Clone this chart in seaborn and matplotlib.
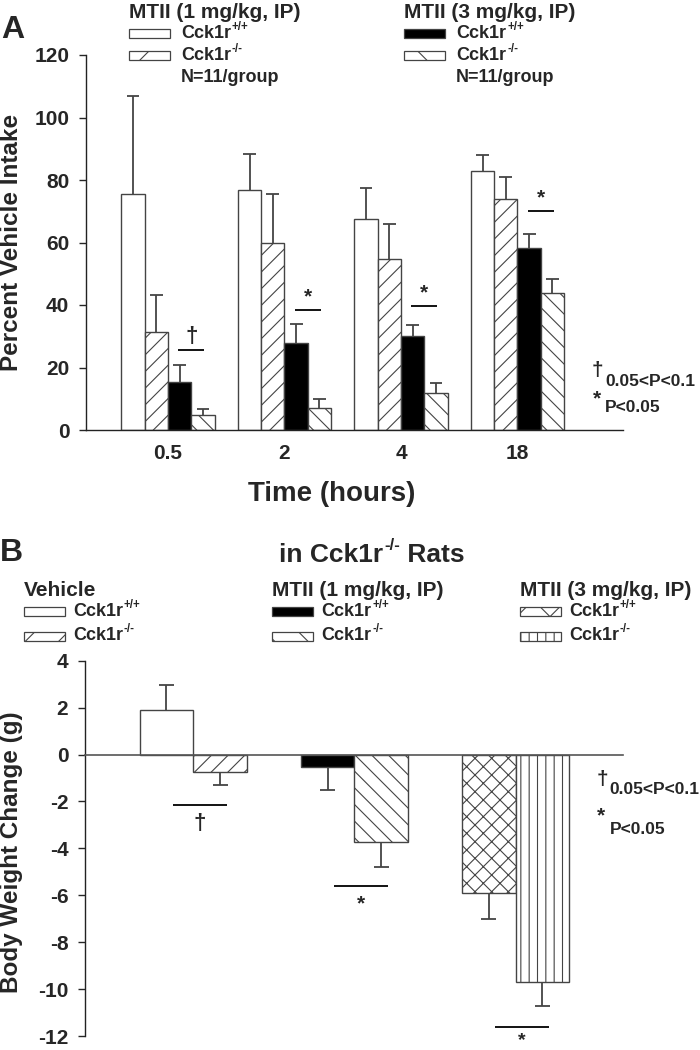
import numpy as np
import pandas as pd
import matplotlib
matplotlib.use("Agg")
import matplotlib.pyplot as plt
import seaborn as sns
from matplotlib.patches import Rectangle

# ---------------- data ----------------
# Panel A: percent vehicle intake
times = ["0.5", "2", "4", "18"]
groups_A = ["MTII1 Cck1r+/+", "MTII1 Cck1r-/-", "MTII3 Cck1r+/+", "MTII3 Cck1r-/-"]
a_mtii1_wt = [75.5, 76.8, 67.6, 82.9]
a_mtii1_ko = [31.5, 59.9, 54.8, 73.9]
a_mtii3_wt = [15.4, 27.9, 30.2, 58.1]
a_mtii3_ko = [4.8, 7.2, 11.7, 43.7]
a_mtii1_wt_err = [31.5, 11.4, 10.0, 5.0]
a_mtii1_ko_err = [11.7, 15.6, 11.2, 7.1]
a_mtii3_wt_err = [5.4, 6.0, 3.4, 4.5]
a_mtii3_ko_err = [1.8, 2.7, 3.4, 4.7]
a_sig_y = [25.5, 38.4, 39.7, 70.0]
a_sig_mark = ["\u2020", "*", "*", "*"]

# Panel B: body weight change
b_conditions = ["Vehicle", "MTII (1 mg/kg, IP)", "MTII (3 mg/kg, IP)"]
b_genotypes = ["Cck1r+/+", "Cck1r-/-"]
b_wt = [1.9, -0.55, -5.91]
b_ko = [-0.75, -3.73, -9.70]
b_wt_err = [1.05, 0.97, 1.12]
b_ko_err = [0.53, 1.05, 1.00]
b_sig_y = [-2.14, -5.62, -11.6]
b_sig_mark = ["\u2020", "*", "*"]

# ---------------- style ----------------
sns.set_style("ticks")
plt.rcParams["font.family"] = ["Liberation Sans", "DejaVu Sans"]
plt.rcParams["font.weight"] = "bold"
plt.rcParams["axes.unicode_minus"] = False
plt.rcParams["hatch.linewidth"] = 0.8
plt.rcParams["axes.linewidth"] = 1.0

W, H = 700, 1050
fig = plt.figure(figsize=(7, 10.5), dpi=100)
fig.patch.set_facecolor("white")
renderer = fig.canvas.get_renderer()


def fx(px):
    return px / W


def fy(py):
    return 1 - py / H


EDGE = "#444444"
ERR = "#444444"


def sup_text(x_px, y_px, base, sup, fs, tail="", ha="left"):
    """Bold text with a superscript part (and optional tail), placed in pixels."""
    kw = dict(fontweight="bold", va="center")
    t1 = fig.text(0, fy(y_px), base, fontsize=fs, **kw)
    t2 = fig.text(0, fy(y_px - 0.36 * fs * 100 / 72), sup, fontsize=0.64 * fs, **kw)
    parts = [t1, t2]
    if tail:
        parts.append(fig.text(0, fy(y_px), tail, fontsize=fs, **kw))
    widths = [p.get_window_extent(renderer).width for p in parts]
    total = sum(widths) + 1
    x0 = x_px if ha == "left" else x_px - total / 2
    cur = x0
    for p, w in zip(parts, widths):
        p.set_x(fx(cur))
        cur += w + (1 if p is t1 else 0)
    return parts


# ================= Panel A =================
axA = fig.add_axes([fx(86), fy(430), (623 - 86) / W, (430 - 55) / H])
dfA = pd.DataFrame({
    "time": times * 4,
    "group": np.repeat(groups_A, len(times)),
    "value": a_mtii1_wt + a_mtii1_ko + a_mtii3_wt + a_mtii3_ko,
})
colors_A = ["white", "white", "black", "white"]
hatches_A = ["", "//", "", "\\\\"]
sns.barplot(data=dfA, x="time", y="value", hue="group", order=times,
            hue_order=groups_A, palette=colors_A, saturation=1, width=0.8,
            errorbar=None, edgecolor=EDGE, linewidth=1.0, legend=False, ax=axA)
means_A = [a_mtii1_wt, a_mtii1_ko, a_mtii3_wt, a_mtii3_ko]
errs_A = [a_mtii1_wt_err, a_mtii1_ko_err, a_mtii3_wt_err, a_mtii3_ko_err]
for cont, hatch, m, e in zip(axA.containers, hatches_A, means_A, errs_A):
    xs = np.array([b.get_x() + b.get_width() / 2 for b in cont])
    for b in cont:
        b.set_hatch(hatch)
    m = np.array(m)
    e = np.array(e)
    axA.vlines(xs, m, m + e, color=ERR, lw=1.3, zorder=3)
    axA.hlines(m + e, xs - 0.055, xs + 0.055, color=ERR, lw=1.3, zorder=3)

for i, (sy, mk) in enumerate(zip(a_sig_y, a_sig_mark)):
    b = axA.containers[2][i]
    bx = b.get_x() + b.get_width()
    axA.hlines(sy, bx - 0.11, bx + 0.11, color="black", lw=1.3)
    axA.text(bx, sy + 1.2, mk, ha="center", va="bottom",
             fontsize=16 if mk == "\u2020" else 15, fontweight="bold")

axA.set_xlim(-0.704, 3.906)
axA.set_ylim(0, 120)
axA.set_yticks(np.arange(0, 121, 20))
axA.tick_params(axis="y", direction="out", length=5, width=1, pad=7,
                labelsize=15)
axA.tick_params(axis="x", length=0, pad=10, labelsize=15)
for lab in axA.get_xticklabels() + axA.get_yticklabels():
    lab.set_fontweight("bold")
sns.despine(ax=axA)
for s in ["left", "bottom"]:
    axA.spines[s].set_color("#222222")
axA.set_ylabel("Percent Vehicle Intake", fontsize=17.5, fontweight="bold")
axA.yaxis.set_label_coords((12 - 86) / 537, 0.50)
axA.yaxis.label.set_va("center")
axA.set_xlabel("Time (hours)", fontsize=20, fontweight="bold")
axA.xaxis.set_label_coords((332 - 86) / 537, -(494 - 430) / 375)
axA.xaxis.label.set_va("center")

# panel A letter + legend
fig.text(fx(13), fy(30), "A", fontsize=23, fontweight="bold", ha="center", va="center")


def swatch(x0, yc, face, hatch, w=41, h=9):
    r = Rectangle((fx(x0), fy(yc + h / 2)), w / W, h / H, transform=fig.transFigure,
                  facecolor=face, edgecolor=EDGE, hatch=hatch, lw=0.9)
    fig.add_artist(r)


def legend_block(x0, ytitle, title, rows, tx_off=51, dy=24, title_fs=15, d0=21):
    fig.text(fx(x0), fy(ytitle), title, fontsize=title_fs, fontweight="bold",
             ha="left", va="center")
    for k, (base, sup, face, hatch) in enumerate(rows):
        yc = ytitle + d0 + k * dy
        swatch(x0, yc, face, hatch)
        sup_text(x0 + tx_off, yc, base, sup, 13)


legend_block(129, 12, "MTII (1 mg/kg, IP)",
             [("Cck1r", "+/+", "white", ""), ("Cck1r", "-/-", "white", "/")],
             tx_off=52, dy=22)
fig.text(fx(181), fy(78), "N=11/group", fontsize=13, fontweight="bold",
         ha="left", va="center")
legend_block(404, 12, "MTII (3 mg/kg, IP)",
             [("Cck1r", "+/+", "black", ""), ("Cck1r", "-/-", "white", "\\")],
             tx_off=52, dy=22)
fig.text(fx(456), fy(78), "N=11/group", fontsize=13, fontweight="bold",
         ha="left", va="center")

# significance key A
fig.text(fx(597), fy(371), "\u2020", fontsize=15, fontweight="bold", ha="center", va="center")
fig.text(fx(605), fy(382), "0.05<P<0.1", fontsize=12.5, fontweight="bold", ha="left", va="center")
fig.text(fx(597), fy(399), "*", fontsize=15, fontweight="bold", ha="center", va="center")
fig.text(fx(605), fy(408), "P<0.05", fontsize=12.5, fontweight="bold", ha="left", va="center")

# ================= Panel B =================
axB = fig.add_axes([fx(85), fy(1036), (623 - 85) / W, (1036 - 660.7) / H])
dfB = pd.DataFrame({
    "condition": b_conditions * 2,
    "genotype": np.repeat(b_genotypes, len(b_conditions)),
    "value": b_wt + b_ko,
})
sns.barplot(data=dfB, x="condition", y="value", hue="genotype", order=b_conditions,
            hue_order=b_genotypes, palette=["white", "white"], saturation=1,
            width=0.667, errorbar=None, edgecolor=EDGE, linewidth=1.0,
            legend=False, ax=axB)
faces_B = [["white", "black", "white"], ["white", "white", "white"]]
hatches_B = [["", "", "xx"], ["//", "\\\\", "||"]]
means_B = [b_wt, b_ko]
errs_B = [b_wt_err, b_ko_err]
for ci, cont in enumerate(axB.containers):
    for j, b in enumerate(cont):
        b.set_facecolor(faces_B[ci][j])
        b.set_hatch(hatches_B[ci][j])
    xs = np.array([b.get_x() + b.get_width() / 2 for b in cont])
    m = np.array(means_B[ci])
    e = np.array(errs_B[ci])
    tip = np.where(m >= 0, m + e, m - e)
    axB.vlines(xs, m, tip, color=ERR, lw=1.3, zorder=3)
    axB.hlines(tip, xs - 0.047, xs + 0.047, color=ERR, lw=1.3, zorder=3)

for i, (sy, mk) in enumerate(zip(b_sig_y, b_sig_mark)):
    b = axB.containers[0][i]
    bx = b.get_x() + b.get_width() + 0.04
    axB.hlines(sy, bx - 0.167, bx + 0.167, color="black", lw=1.3, clip_on=False)
    if i == len(b_sig_y) - 1:
        axB.text(bx, -12.0 - 13.5 / 23.46, mk, ha="center", va="bottom", fontsize=14,
                 fontweight="bold", clip_on=False)
    else:
        axB.text(bx, sy - 0.35, mk, ha="center", va="top",
                 fontsize=16 if mk == "\u2020" else 15,
                 fontweight="bold", clip_on=False)

axB.set_xlim(-0.672, 2.667)
axB.set_ylim(-12, 4)
axB.set_yticks(np.arange(-12, 5, 2))
axB.tick_params(axis="y", direction="out", length=5, width=1, pad=7, labelsize=15)
for lab in axB.get_yticklabels():
    lab.set_fontweight("bold")
axB.set_xticks([])
axB.set_xlabel("")
axB.spines["top"].set_visible(False)
axB.spines["right"].set_visible(False)
axB.spines["bottom"].set_position(("data", 0))
axB.spines["bottom"].set_color("#555555")
axB.spines["bottom"].set_linewidth(1.2)
axB.spines["left"].set_color("#222222")
axB.set_ylabel("Body Weight Change (g)", fontsize=17.5, fontweight="bold")
axB.yaxis.set_label_coords((12 - 85) / 538, 0.49)
axB.yaxis.label.set_va("center")

fig.text(fx(11), fy(553), "B", fontsize=23, fontweight="bold", ha="center", va="center")
sup_text(372, 555, "in Cck1r", "-/-", 19, tail=" Rats", ha="center")
legend_block(24, 590, "Vehicle",
             [("Cck1r", "+/+", "white", ""), ("Cck1r", "-/-", "white", "/")],
             tx_off=49, dy=25)
legend_block(272, 590, "MTII (1 mg/kg, IP)",
             [("Cck1r", "+/+", "black", ""), ("Cck1r", "-/-", "white", "\\")],
             tx_off=49, dy=25)
legend_block(520, 590, "MTII (3 mg/kg, IP)",
             [("Cck1r", "+/+", "white", "x"), ("Cck1r", "-/-", "white", "||")],
             tx_off=49, dy=25)

# significance key B
fig.text(fx(602), fy(780), "\u2020", fontsize=15, fontweight="bold", ha="center", va="center")
fig.text(fx(609), fy(790), "0.05<P<0.1", fontsize=12.5, fontweight="bold", ha="left", va="center")
fig.text(fx(601), fy(816), "*", fontsize=15, fontweight="bold", ha="center", va="center")
fig.text(fx(610), fy(830), "P<0.05", fontsize=12.5, fontweight="bold", ha="left", va="center")

fig.savefig("out.png", dpi=100, facecolor="white")
